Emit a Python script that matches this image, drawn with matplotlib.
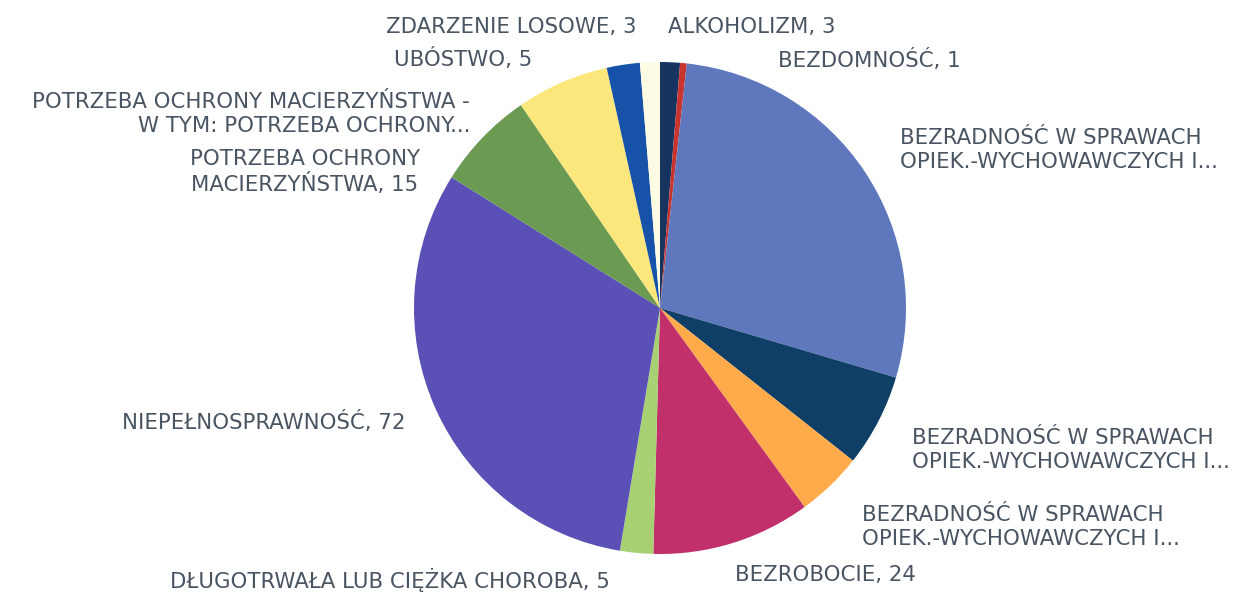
import matplotlib; matplotlib.use('Agg')
import matplotlib.pyplot as plt

# =============================================================================
# DATA (clockwise from 12 o'clock)
# =============================================================================
CATEGORIES = [
    'ALKOHOLIZM', 'BEZDOMNOŚĆ',
    'BEZRADNOŚĆ W SPRAWACH OPIEK.-WYCHOWAWCZYCH I... (1)',
    'BEZRADNOŚĆ W SPRAWACH OPIEK.-WYCHOWAWCZYCH I... (2)',
    'BEZRADNOŚĆ W SPRAWACH OPIEK.-WYCHOWAWCZYCH I... (3)',
    'BEZROBOCIE', 'DŁUGOTRWAŁA LUB CIĘŻKA CHOROBA', 'NIEPEŁNOSPRAWNOŚĆ',
    'POTRZEBA OCHRONY MACIERZYŃSTWA',
    'POTRZEBA OCHRONY MACIERZYŃSTWA - W TYM: POTRZEBA OCHRONY...',
    'UBÓSTWO', 'ZDARZENIE LOSOWE',
]
VALUES = [3, 1, 64, 14, 10, 24, 5, 72, 15, 14, 5, 3]
LABELS = [
    'ALKOHOLIZM, 3',
    'BEZDOMNOŚĆ, 1',
    'BEZRADNOŚĆ W SPRAWACH\nOPIEK.-WYCHOWAWCZYCH I...',
    'BEZRADNOŚĆ W SPRAWACH\nOPIEK.-WYCHOWAWCZYCH I...',
    'BEZRADNOŚĆ W SPRAWACH\nOPIEK.-WYCHOWAWCZYCH I...',
    'BEZROBOCIE, 24',
    'DŁUGOTRWAŁA LUB CIĘŻKA CHOROBA, 5',
    'NIEPEŁNOSPRAWNOŚĆ, 72',
    'POTRZEBA OCHRONY\nMACIERZYŃSTWA, 15',
    'POTRZEBA OCHRONY MACIERZYŃSTWA -\nW TYM: POTRZEBA OCHRONY...',
    'UBÓSTWO, 5',
    'ZDARZENIE LOSOWE, 3',
]
COLORS = [
    '#17335f', '#c8352e', '#5f77bc', '#0f3f66', '#ffab4c', '#c2306b',
    '#a8d174', '#5a50b6', '#6b9a52', '#fce77c', '#1552a8', '#fdfbe4',
]

# label layout: (x px, y px from top, ha, multi-line alignment)
LABEL_POS = [
    (668, 27, 'left', 'left'),
    (778, 60, 'left', 'left'),
    (900, 150, 'left', 'left'),
    (912, 450, 'left', 'left'),
    (862, 527, 'left', 'left'),
    (735, 575, 'left', 'left'),
    (610, 580, 'right', 'right'),
    (405, 422, 'right', 'right'),
    (420, 172, 'right', 'center'),
    (470, 114, 'right', 'right'),
    (532, 59, 'right', 'right'),
    (637, 27, 'right', 'right'),
]

W, H = 1245, 593
CX, CY, R = 660, 308, 246
TXT = '#4a5563'

fig = plt.figure(figsize=(W / 100, H / 100), dpi=100)
fig.patch.set_facecolor('white')

ax = fig.add_axes([(CX - R) / W, (H - CY - R) / H, 2 * R / W, 2 * R / H])
ax.pie(VALUES, colors=COLORS, startangle=90, counterclock=False,
       radius=1.0, wedgeprops=dict(linewidth=0))
ax.set_xlim(-1, 1); ax.set_ylim(-1, 1)
ax.set_aspect('equal')
ax.axis('off')

for lab, (x, y, ha, ma) in zip(LABELS, LABEL_POS):
    fig.text(x / W, 1 - y / H, lab, ha=ha, va='center', multialignment=ma,
             fontsize=15.3, color=TXT, linespacing=1.2)

fig.savefig('out.png', dpi=100, facecolor='white')
